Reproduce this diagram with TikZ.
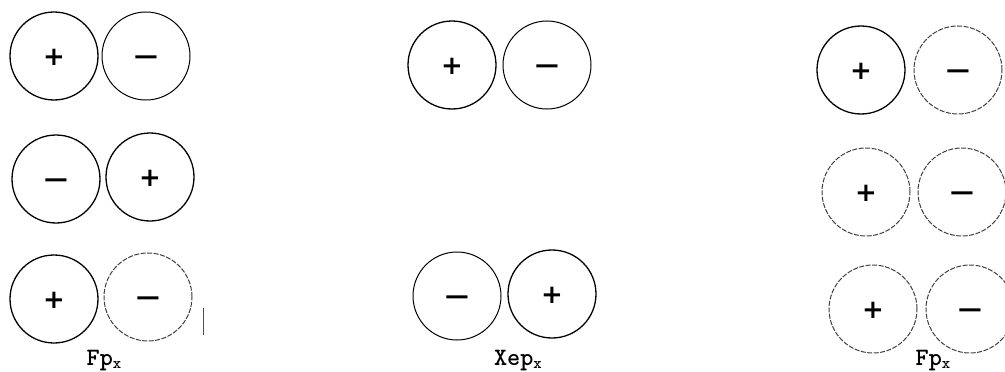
\documentclass[tikz,border=0pt]{standalone}
\usepackage{fontspec}
\usepackage{graphicx}
\newfontfamily\signfont{DejaVu Sans}
\newcommand{\mns}{\scalebox{1.3}[1]{−}}
\begin{document}
\begin{tikzpicture}[x=1pt,y=-1pt,
  ball/.style={circle,draw=black,line width=1.3pt,minimum size=88pt,inner sep=0pt,text height=18pt,text depth=0pt,font=\signfont\bfseries\fontsize{26}{26}\selectfont},
  faint/.style={ball,draw=black!75,line width=1pt,dash pattern=on 5pt off 1.5pt},
  lab/.style={font=\ttfamily\bfseries\fontsize{25}{25}\selectfont,anchor=base,inner sep=0pt}]
\useasboundingbox (0,0) rectangle (1005,372);
% column 1
\node[ball]  (a1) at (54,56)  {+};
\node[ball,line width=1pt]  (a2) at (146,56) {\mns};
\node[ball]  (b1) at (56,179) {\mns};
\node[ball]  (b2) at (150,177) {+};
\node[ball]  (c1) at (54,299) {+};
\node[faint] (c2) at (148,297) {\mns};
\node[lab] (l1) at (104,365) {Fp\raisebox{-3pt}{\fontsize{16}{16}\selectfont x}};
\coordinate (m1) at (203,308);
\coordinate (m2) at (203,335);
\draw[black!70,line width=0.8pt] (m1) -- (m2);
% column 2
\node[ball]  (d1) at (452,65)  {+};
\node[ball,line width=1pt]  (d2) at (547,65)  {\mns};
\node[ball,line width=1pt]  (e1) at (457,296) {\mns};
\node[ball]  (e2) at (552,294) {+};
\node[lab] (l2) at (518,365) {Xep\raisebox{-3pt}{\fontsize{16}{16}\selectfont x}};
% column 3
\node[ball]  (f1) at (861,70)  {+};
\node[faint] (f2) at (958,70)  {\mns};
\node[faint] (g1) at (866,192) {+};
\node[faint] (g2) at (962,192) {\mns};
\node[faint] (h1) at (873,309) {+};
\node[faint] (h2) at (970,309) {\mns};
\node[lab] (l3) at (933,365) {Fp\raisebox{-3pt}{\fontsize{16}{16}\selectfont x}};
\end{tikzpicture}
\end{document}
